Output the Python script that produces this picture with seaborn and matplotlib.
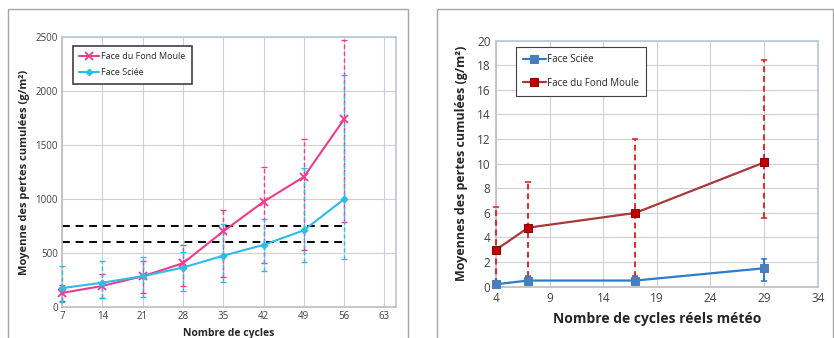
import matplotlib
matplotlib.use("Agg")
import matplotlib.pyplot as plt
import seaborn as sns
import pandas as pd
import numpy as np
from matplotlib.patches import Rectangle

# ---- data: left chart ----
cycles = [7, 14, 21, 28, 35, 42, 49, 56]
fond_moule = [130, 195, 285, 405, 700, 975, 1205, 1740]
fond_moule_hi = [200, 310, 430, 570, 900, 1300, 1560, 2470]
fond_moule_lo = [60, 85, 130, 195, 280, 410, 530, 790]
sciee = [175, 225, 285, 365, 475, 575, 710, 1000]
sciee_hi = [380, 425, 465, 510, 765, 815, 1290, 2150]
sciee_lo = [50, 80, 95, 145, 230, 335, 420, 440]
seuils = [750, 600]
left_xticks = [7, 14, 21, 28, 35, 42, 49, 56, 63]
left_yticks = [0, 500, 1000, 1500, 2000, 2500]

# ---- data: right chart ----
cycles_meteo = [4, 7, 17, 29]
sciee_m = [0.2, 0.5, 0.5, 1.5]
sciee_m_hi = [0.3, 0.9, 0.9, 2.25]
sciee_m_lo = [0.1, 0.2, 0.2, 0.5]
fond_m = [3.0, 4.8, 6.0, 10.1]
fond_m_hi = [6.5, 8.5, 12.0, 18.4]
fond_m_lo = [0.2, 0.8, 0.8, 5.6]
right_xticks = [4, 9, 14, 19, 24, 29, 34]
right_yticks = [0, 2, 4, 6, 8, 10, 12, 14, 16, 18, 20]

sns.set_theme(style="white")
plt.rcParams['font.family'] = ['Open Sans', 'DejaVu Sans']

PINK = '#EC3C8E'
CYAN = '#2FBBE8'
BLUE = '#2A7DC9'
BLUE_M = '#4A7EBB'
DRED = '#A8393A'
RED_M = '#C00000'
RED_E = '#E8262A'
GRID = '#D0D0D0'
SPINE = '#B8C8DC'

fig = plt.figure(figsize=(8.34, 3.38), dpi=100)
fig.patch.set_facecolor('white')

# panel borders
fig.patches.append(Rectangle((8/834, -0.05), 400/834, 1 - 9.3/338 + 0.05, transform=fig.transFigure,
                             fill=False, edgecolor='#A6A6A6', lw=1.0))
fig.patches.append(Rectangle((437/834, -0.05), 396/834, 1 - 9.3/338 + 0.05, transform=fig.transFigure,
                             fill=False, edgecolor='#A6A6A6', lw=1.0))

# ---------- left axes ----------
ax1 = fig.add_axes([62/834, 1 - 307/338, (396-62)/834, (307-37)/338])
df_fm = pd.DataFrame({'x': cycles, 'y': fond_moule})
df_sc = pd.DataFrame({'x': cycles, 'y': sciee})
for vals, hi, lo, col in [(fond_moule, fond_moule_hi, fond_moule_lo, PINK),
                          (sciee, sciee_hi, sciee_lo, CYAN)]:
    v = np.array(vals); h = np.array(hi); l = np.array(lo)
    eb = ax1.errorbar(cycles, v, yerr=[v - l, h - v], fmt='none', ecolor=col,
                      elinewidth=1.0, capsize=2, capthick=1.0, zorder=3)
    eb[2][0].set_linestyle((0, (3, 2)))
    for art in list(eb[1]) + list(eb[2]):
        art.set_clip_on(False)
for yv in seuils:
    ax1.plot([cycles[0], cycles[-1]], [yv, yv], color='black', lw=1.4,
             ls=(0, (4, 3)), zorder=2)
sns.lineplot(data=df_fm, x='x', y='y', color=PINK, marker='x', markersize=6,
             markeredgewidth=1.3, markeredgecolor=PINK, linewidth=1.5, ax=ax1,
             zorder=4, label='Face du Fond Moule', clip_on=False)
sns.lineplot(data=df_sc, x='x', y='y', color=CYAN, marker='D', markersize=3.5,
             markeredgecolor=CYAN, linewidth=1.5, ax=ax1, zorder=4,
             label='Face Sciée', clip_on=False)
ax1.set_xlim(7, 65)
ax1.set_ylim(0, 2500)
ax1.set_xticks(left_xticks)
ax1.set_yticks(left_yticks)
ax1.grid(True, color=GRID, lw=0.8)
ax1.set_axisbelow(True)
ax1.tick_params(labelsize=7, colors='#404040', length=0, pad=3)
for s in ['top', 'right']:
    ax1.spines[s].set_color(SPINE)
for s in ['left', 'bottom']:
    ax1.spines[s].set_color('#BFBFBF')
ax1.set_xlabel('Nombre de cycles', fontsize=7.5, fontweight='bold', labelpad=4)
ax1.set_ylabel('Moyenne des pertes cumulées (g/m²)', fontsize=8, fontweight='bold', labelpad=4)
leg = ax1.legend(loc='upper left', bbox_to_anchor=(0.033, 0.967), fontsize=6.5,
                 frameon=True, fancybox=False, edgecolor='#404040', framealpha=1,
                 handlelength=2.2, borderpad=0.7, labelspacing=0.8, handletextpad=0.2,
                 borderaxespad=0)
leg.get_frame().set_linewidth(1.2)

# ---------- right axes ----------
ax2 = fig.add_axes([496/834, 1 - 286.7/338, (817.7-496)/834, (286.7-40.7)/338])
df_sm = pd.DataFrame({'x': cycles_meteo, 'y': sciee_m})
df_fmm = pd.DataFrame({'x': cycles_meteo, 'y': fond_m})
v = np.array(fond_m); hi = np.array(fond_m_hi); lo = np.array(fond_m_lo)
eb = ax2.errorbar(cycles_meteo, v, yerr=[v - lo, hi - v], fmt='none', ecolor=RED_E,
                  elinewidth=1.4, capsize=2, capthick=1.2, zorder=3)
eb[2][0].set_linestyle((0, (3, 2)))
for art in list(eb[1]) + list(eb[2]):
    art.set_clip_on(False)
v = np.array(sciee_m); hi = np.array(sciee_m_hi); lo = np.array(sciee_m_lo)
eb = ax2.errorbar(cycles_meteo, v, yerr=[v - lo, hi - v], fmt='none', ecolor=BLUE,
                  elinewidth=1.4, capsize=2.5, capthick=1.2, zorder=3)
for art in list(eb[1]) + list(eb[2]):
    art.set_clip_on(False)
sns.lineplot(data=df_sm, x='x', y='y', color=BLUE, marker='s', markersize=7,
             markerfacecolor=BLUE_M, markeredgecolor=BLUE_M, linewidth=1.6,
             ax=ax2, zorder=4, label='Face Sciée', clip_on=False)
sns.lineplot(data=df_fmm, x='x', y='y', color=DRED, marker='s', markersize=7,
             markerfacecolor=RED_M, markeredgecolor='#9A0000', linewidth=1.6,
             ax=ax2, zorder=4, label='Face du Fond Moule', clip_on=False)
ax2.set_xlim(4, 34)
ax2.set_ylim(0, 20)
ax2.set_xticks(right_xticks)
ax2.set_yticks(right_yticks)
ax2.grid(True, color=GRID, lw=0.8)
ax2.set_axisbelow(True)
ax2.tick_params(labelsize=8.5, colors='#404040', length=0, pad=4)
for s in ['top', 'right']:
    ax2.spines[s].set_color(SPINE)
for s in ['left', 'bottom']:
    ax2.spines[s].set_color('#BFBFBF')
ax2.set_xlabel('Nombre de cycles réels météo', fontsize=10, fontweight='bold', labelpad=5)
ax2.set_ylabel('Moyennes des pertes cumulées (g/m²)', fontsize=9, fontweight='bold', labelpad=6)
h, l = ax2.get_legend_handles_labels()
for hh in h:
    hh.set_markersize(6)
leg2 = ax2.legend(h, l, loc='upper left', bbox_to_anchor=(0.062, 0.973), fontsize=7,
                  frameon=True, fancybox=False, edgecolor='#404040', framealpha=1,
                  handlelength=2.4, borderpad=0.7, labelspacing=1.3, handletextpad=0.1,
                  borderaxespad=0)
leg2.get_frame().set_linewidth(0.8)

fig.savefig('out.png', dpi=100)
